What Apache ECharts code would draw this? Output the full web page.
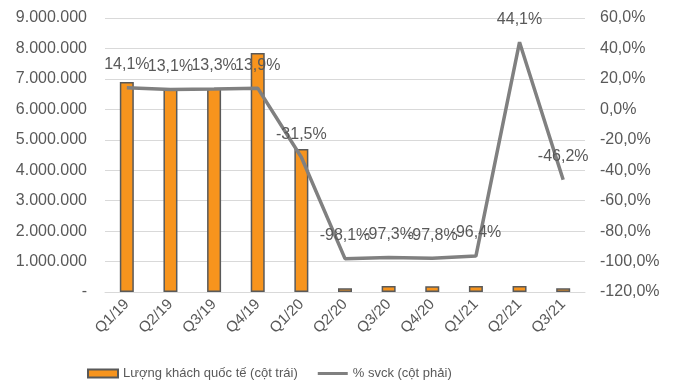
<!DOCTYPE html>
<html>
<head>
<meta charset="utf-8">
<script src="https://cdn.jsdelivr.net/npm/echarts@6/dist/echarts.min.js"></script>
<style>
html,body{margin:0;padding:0;background:#fff;}
#chart{width:675px;height:381px;}
</style>
</head>
<body>
<div id="chart"></div>
<script>
// Quarterly international arrivals and year-over-year change
const quarters = ['Q1/19','Q2/19','Q3/19','Q4/19','Q1/20','Q2/20','Q3/20','Q4/20','Q1/21','Q2/21','Q3/21'];
const arrivals = [6900000, 6700000, 6700000, 7850000, 4700000, 120000, 200000, 190000, 200000, 200000, 120000];
const yoyPct = [14.1, 13.1, 13.3, 13.9, -31.5, -98.1, -97.3, -97.8, -96.4, 44.1, -46.2];

const FONT = '"Liberation Sans", Arial, sans-serif';
const TXT = '#595959';

function fmtThousands(v) {
  if (v === 0) return '-';
  return String(Math.round(v)).replace(/\B(?=(\d{3})+(?!\d))/g, '.');
}
function fmtPct(v) {
  return v.toFixed(1).replace('.', ',') + '%';
}

const chart = echarts.init(document.getElementById('chart'));
chart.setOption({
  animation: false,
  textStyle: { fontFamily: FONT },
  grid: { left: 105, right: 90, top: 18, bottom: 89 },
  legend: {
    top: 362,
    left: 82,
    itemGap: 20,
    itemWidth: 30,
    itemHeight: 8,
    textStyle: { color: TXT, fontSize: 13, fontFamily: FONT },
    data: [
      { name: 'Lượng khách quốc tế (cột trái)', icon: 'rect' },
      { name: '% svck (cột phải)', icon: 'path://M0,0 L30,0 L30,3 L0,3 Z', itemStyle: { color: '#808080', borderWidth: 0 } }
    ]
  },
  xAxis: {
    type: 'category',
    data: quarters,
    axisLine: { lineStyle: { color: '#d9d9d9' } },
    axisTick: { show: false },
    axisLabel: { color: TXT, fontSize: 15, rotate: 45, margin: 10, fontFamily: FONT }
  },
  yAxis: [
    {
      type: 'value',
      min: 0, max: 9000000, interval: 1000000,
      axisLine: { show: false },
      axisTick: { show: false },
      splitLine: { lineStyle: { color: '#d9d9d9', width: 1 } },
      axisLabel: { color: TXT, fontSize: 16, margin: 18, formatter: fmtThousands, fontFamily: FONT }
    },
    {
      type: 'value',
      min: -120, max: 60, interval: 20,
      axisLine: { show: false },
      axisTick: { show: false },
      splitLine: { show: false },
      axisLabel: { color: TXT, fontSize: 16, margin: 15, formatter: fmtPct, fontFamily: FONT }
    }
  ],
  series: [
    {
      name: 'Lượng khách quốc tế (cột trái)',
      type: 'bar',
      yAxisIndex: 0,
      data: arrivals,
      barWidth: 14,
      itemStyle: { color: '#F7941D', borderColor: '#595959', borderWidth: 1.5 }
    },
    {
      name: '% svck (cột phải)',
      type: 'line',
      yAxisIndex: 1,
      data: yoyPct,
      symbol: 'circle',
      symbolSize: 0,
      showSymbol: true,
      lineStyle: { color: '#808080', width: 3.5 },
      itemStyle: { color: '#808080' },
      label: {
        show: true,
        position: 'top',
        distance: 15,
        color: TXT,
        fontSize: 16,
        fontFamily: FONT,
        formatter: p => fmtPct(p.value)
      }
    }
  ]
});
</script>
</body>
</html>
